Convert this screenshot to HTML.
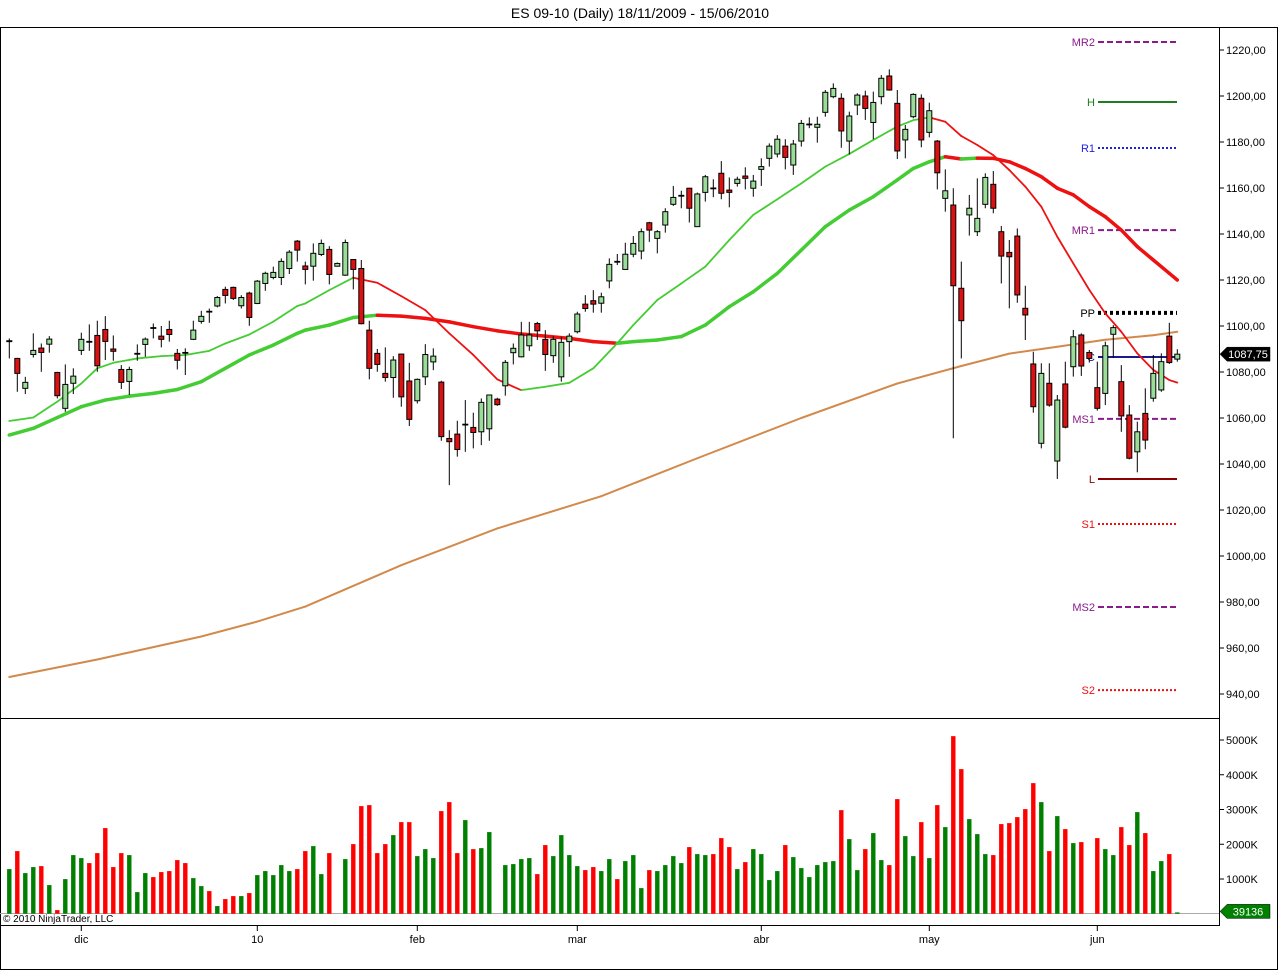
<!DOCTYPE html>
<html><head><meta charset="utf-8"><style>
body{margin:0;background:#fff;font-family:"Liberation Sans",sans-serif}
svg{display:block}
</style></head><body>
<svg id="chart" width="1280" height="971" xmlns="http://www.w3.org/2000/svg" font-family="Liberation Sans, sans-serif">
<rect x="0" y="0" width="1280" height="971" fill="#fff"/>
<text x="640" y="18" text-anchor="middle" font-size="14" fill="#000">ES 09-10 (Daily)  18/11/2009 - 15/06/2010</text>
<rect x="0.5" y="27.5" width="1277" height="942" fill="none" stroke="#000"/>
<line x1="0" y1="718.5" x2="1219" y2="718.5" stroke="#000"/>
<line x1="0" y1="925.5" x2="1219" y2="925.5" stroke="#000"/>
<line x1="1219.5" y1="27" x2="1219.5" y2="926" stroke="#000"/>
<line x1="0" y1="913.5" x2="1219" y2="913.5" stroke="#aaa"/>
<g id="pivots"></g>
<g id="mas"></g>
<g id="candles"></g>
<g id="volume"></g>
<g id="axes"></g>
<text x="3" y="922" font-size="10" fill="#000">© 2010 NinjaTrader, LLC</text>
</svg>
<script>
const opens=[1093.2,1085.9,1072.9,1087.6,1090.4,1092.1,1079.8,1064.2,1075.1,1089.4,1093.2,1095.9,1098.5,1090.0,1081.1,1075.9,1088.0,1092.0,1099.2,1095.6,1098.5,1088.1,1088.4,1094.2,1102.0,1106.3,1108.7,1115.9,1116.8,1108.8,1114.3,1109.8,1118.5,1121.1,1121.1,1125.0,1136.9,1126.1,1126.0,1131.1,1133.3,1126.0,1122.1,1128.9,1125.0,1098.2,1088.1,1079.4,1077.6,1087.8,1076.1,1067.5,1077.9,1084.4,1075.6,1051.1,1053.0,1057.2,1055.9,1054.0,1055.3,1068.2,1074.0,1088.4,1086.6,1091.4,1101.1,1094.2,1087.1,1077.9,1093.2,1097.5,1109.5,1111.0,1109.9,1119.6,1128.0,1124.6,1131.2,1132.6,1144.9,1138.1,1143.9,1152.9,1156.7,1159.9,1143.2,1158.1,1159.9,1166.4,1159.1,1162.0,1165.2,1159.9,1168.1,1172.9,1174.8,1178.2,1170.0,1180.4,1187.7,1186.4,1192.9,1199.7,1199.0,1180.4,1196.1,1200.0,1188.5,1199.7,1208.7,1196.8,1180.9,1191.0,1199.0,1184.2,1180.4,1155.5,1152.6,1116.4,1148.3,1141.0,1152.9,1161.6,1141.0,1132.0,1139.1,1107.7,1083.5,1049.0,1075.1,1041.3,1074.8,1082.3,1096.1,1088.5,1073.2,1070.7,1096.4,1075.8,1061.3,1045.3,1062.0,1068.6,1072.2,1095.6,1085.6];
const highs=[1094.6,1086.2,1077.9,1096.8,1092.4,1095.6,1080.1,1083.3,1081.6,1097.1,1100.7,1102.3,1104.3,1095.9,1083.0,1082.3,1092.0,1095.0,1101.1,1100.0,1102.3,1090.0,1090.3,1102.3,1106.6,1107.6,1113.0,1117.1,1117.1,1113.4,1114.9,1120.0,1123.6,1125.8,1129.4,1133.0,1137.4,1128.0,1135.9,1137.6,1134.7,1127.6,1137.6,1128.9,1128.7,1102.3,1090.0,1090.7,1086.9,1087.8,1084.0,1077.2,1092.1,1090.3,1076.2,1054.7,1058.8,1067.8,1062.3,1068.5,1070.0,1068.8,1085.2,1092.4,1101.8,1101.8,1101.8,1098.2,1095.6,1095.3,1096.8,1106.2,1113.4,1115.6,1114.5,1129.4,1131.3,1136.2,1139.1,1142.4,1145.3,1141.7,1151.2,1160.9,1158.8,1160.1,1158.0,1165.7,1163.8,1171.7,1164.6,1164.9,1169.0,1165.7,1172.9,1179.4,1183.0,1181.2,1180.9,1189.6,1190.7,1191.0,1202.6,1205.5,1201.2,1193.2,1201.2,1202.3,1201.9,1209.1,1211.6,1202.6,1187.4,1201.2,1200.7,1197.1,1180.9,1168.1,1159.9,1128.0,1157.0,1164.2,1166.4,1167.4,1143.5,1137.4,1142.4,1117.5,1088.8,1083.8,1083.8,1070.0,1084.5,1098.3,1096.8,1089.6,1084.5,1093.2,1100.4,1083.0,1065.6,1058.4,1072.9,1087.4,1088.1,1101.4,1089.9];
const lows=[1085.9,1071.4,1070.4,1086.3,1080.1,1088.4,1068.5,1062.7,1070.4,1087.4,1089.2,1080.1,1085.2,1084.9,1072.6,1070.0,1084.9,1086.6,1094.6,1090.7,1093.2,1081.1,1078.7,1093.9,1101.0,1101.4,1108.1,1109.8,1111.3,1107.6,1100.1,1109.5,1115.3,1120.3,1117.8,1122.6,1128.0,1118.1,1119.7,1130.4,1118.1,1125.8,1121.8,1115.9,1100.7,1076.8,1080.1,1075.8,1068.8,1064.9,1056.5,1066.3,1074.3,1080.8,1050.1,1030.8,1043.2,1045.3,1046.8,1048.2,1050.1,1065.3,1069.7,1083.3,1086.3,1089.2,1093.9,1080.5,1084.0,1075.8,1086.6,1096.8,1106.2,1105.8,1105.8,1116.4,1126.5,1124.6,1129.9,1129.0,1136.6,1131.6,1140.6,1152.2,1151.2,1145.0,1143.2,1154.1,1156.0,1155.1,1151.6,1160.6,1159.4,1156.2,1160.9,1169.3,1173.3,1168.1,1165.7,1178.0,1186.0,1179.7,1191.0,1199.0,1177.5,1174.6,1191.7,1189.6,1181.2,1196.4,1202.3,1172.6,1172.9,1190.3,1177.7,1182.0,1159.4,1149.7,1051.2,1085.9,1139.3,1139.1,1151.2,1149.0,1118.5,1107.7,1110.1,1093.9,1062.3,1046.8,1064.9,1033.5,1055.5,1078.0,1078.3,1084.1,1063.2,1065.6,1086.2,1054.0,1042.0,1036.4,1046.4,1067.1,1071.4,1083.5,1084.5];
const closes=[1093.6,1079.4,1075.5,1089.4,1088.5,1094.3,1069.7,1074.6,1078.2,1094.2,1093.3,1082.7,1093.3,1089.0,1075.5,1081.1,1088.1,1094.3,1099.3,1094.2,1096.3,1085.1,1088.5,1098.2,1104.2,1106.4,1112.4,1113.3,1112.0,1112.4,1103.7,1119.5,1122.9,1123.3,1128.1,1132.1,1133.0,1124.6,1131.6,1135.9,1122.4,1127.2,1136.3,1124.6,1101.0,1081.6,1083.3,1077.6,1085.2,1069.2,1059.4,1076.8,1087.6,1086.9,1051.9,1049.7,1046.3,1057.3,1053.7,1066.8,1070.0,1065.8,1084.2,1090.3,1096.1,1096.1,1097.9,1087.6,1094.2,1092.9,1095.6,1105.2,1107.6,1109.5,1112.7,1126.8,1128.1,1131.2,1135.9,1141.0,1141.7,1141.0,1149.7,1155.9,1156.8,1151.2,1157.4,1164.9,1160.0,1157.7,1158.1,1163.8,1164.2,1163.0,1169.3,1178.2,1181.2,1173.3,1179.1,1188.1,1187.8,1187.7,1201.6,1203.3,1184.8,1191.3,1200.4,1194.6,1197.2,1207.7,1202.6,1176.1,1185.5,1200.7,1180.9,1193.6,1166.6,1158.8,1117.5,1102.3,1151.2,1146.8,1164.6,1151.2,1130.4,1130.1,1113.5,1104.8,1064.9,1079.4,1065.6,1067.8,1056.0,1095.3,1082.6,1085.9,1064.2,1091.4,1099.3,1060.9,1042.5,1054.0,1050.4,1079.4,1084.5,1084.1,1087.75];
const volumes=[1285,1803,1170,1343,1371,825,105,997,1688,1602,1458,1745,2465,1343,1745,1688,623,1170,1055,1199,1228,1544,1458,1026,796,652,221,422,508,508,595,1112,1228,1112,1400,1228,1285,1803,1947,1141,1745,0,1573,2004,3098,3126,1745,2004,2263,2637,2637,1659,1860,1602,2954,3213,1745,2695,1860,1889,2350,0,1400,1429,1573,1602,1141,1976,1659,2263,1688,1371,1256,1343,1228,1573,997,1515,1688,738,1256,1228,1400,1659,1458,1918,1717,1688,1717,2177,1918,1285,1486,1860,1717,969,1228,1976,1630,1314,1055,1400,1486,1515,2982,2148,1256,1860,2321,1544,1400,3299,2234,1659,2637,1602,3126,2493,5111,4162,2724,2292,1717,1688,2580,2608,2781,3011,3759,3213,1803,2810,2436,2033,2062,0,2177,1860,1688,2493,1976,2925,2321,1228,1515,1717,39.136];
const volUp=[1,0,1,1,0,1,0,1,1,1,0,0,0,0,0,1,1,1,0,0,0,0,0,1,1,0,1,0,0,1,0,1,1,1,1,1,0,0,1,1,0,1,1,0,0,0,0,0,1,0,0,1,1,1,0,0,0,1,0,1,1,0,1,1,1,1,0,0,1,1,1,1,0,0,1,1,0,1,1,1,0,1,1,1,1,0,1,1,0,0,0,1,0,1,1,1,1,0,1,1,1,1,1,1,0,1,1,0,1,1,0,0,1,1,0,1,0,1,0,0,1,1,1,0,0,0,0,0,0,1,0,1,0,1,0,0,0,1,1,0,0,1,0,1,1,0,1];
const thinIdx=[0,3,6,9,11,13,16,19,22,25,27,30,33,36,37,40,43,46,49,52,55,58,61,63,64,67,70,73,76,78,81,84,87,90,93,96,99,102,105,108,111,113,115,117,119,121,123,125,127,129,131,133,135,137,139,141,143,145,146];
const thinVal=[1058.7,1060.2,1067.1,1075.0,1081.6,1084.0,1085.9,1086.9,1087.4,1089.2,1092.4,1096.3,1101.9,1108.7,1109.8,1115.6,1121.0,1118.8,1113.0,1106.9,1096.8,1087.4,1076.8,1073.6,1072.1,1073.6,1075.3,1081.6,1092.5,1100.4,1111.3,1118.5,1125.8,1137.4,1148.3,1155.1,1162.0,1169.3,1174.8,1180.9,1186.7,1189.5,1190.7,1188.8,1182.6,1178.7,1174.3,1167.8,1160.6,1151.9,1138.8,1127.2,1115.7,1105.5,1097.5,1088.1,1080.9,1076.5,1075.4];
const thickIdx=[0,3,6,9,12,15,18,21,24,27,30,33,36,37,40,43,46,49,52,55,58,61,64,67,70,73,76,78,81,84,87,90,93,96,99,102,105,108,111,113,115,117,119,121,123,125,127,129,131,133,135,137,139,141,143,145,146];
const thickVal=[1052.6,1055.5,1060.2,1064.9,1067.8,1069.5,1070.7,1072.4,1075.8,1081.6,1087.4,1091.7,1096.8,1098.2,1100.4,1103.7,1104.7,1104.3,1103.3,1101.8,1099.7,1097.9,1096.5,1095.6,1094.6,1093.2,1092.5,1093.2,1093.9,1095.4,1100.4,1108.4,1114.9,1122.9,1133.0,1143.2,1150.4,1156.2,1163.5,1168.5,1171.4,1173.6,1172.6,1173.0,1172.9,1171.4,1168.5,1164.9,1159.9,1157.0,1151.9,1147.5,1141.7,1134.5,1128.7,1122.9,1120.0];
const smaIdx=[0,11,24,31,37,49,61,74,86,99,111,119,125,131,137,143,146];
const smaVal=[947.4,955.0,965.0,971.5,978.0,996.0,1012.0,1026.0,1042.5,1060.0,1075.0,1082.6,1088.0,1091.0,1094.0,1096.0,1097.5];
const pivotNames=["MR2","H","R1","MR1","PP","C","MS1","L","S1","MS2","S2"];
const pivotVals=[1223.5,1197.4,1177.4,1141.7,1105.7,1086.5,1059.6,1033.5,1013.9,977.8,941.7];
const pivotColors=["#8b1a8b","#1e7d1e","#2020e0","#8b1a8b","#000","#1a1a8c","#8b1a8b","#8b0000","#ee1111","#8b1a8b","#ee1111"];
const pivotDash=["6,3","","2,2","6,3","3,3","","6,3","","2,2","6,3","2,2"];
const pivotWidth=[2,2,2,2,4,2,2,2,2,2,2];
const priceTicks=[940,960,980,1000,1020,1040,1060,1080,1100,1120,1140,1160,1180,1200,1220];
const volTicks=[1000,2000,3000,4000,5000];
const monthLabels=["dic","10","feb","mar","abr","may","jun"];
const monthIdx=[9,31,51,71,94,115,136];
const lastPrice=1087.75, lastVol=39136;

const NS="http://www.w3.org/2000/svg";
const xB=i=>9.3+8*i;
const yP=p=>50+(1220-p)*2.3;
const yV=v=>913.75-v*0.03475;
function mk(tag,attrs,parent){const e=document.createElementNS(NS,tag);for(const k in attrs)e.setAttribute(k,attrs[k]);parent.appendChild(e);return e;}
const gP=document.getElementById('pivots'),gM=document.getElementById('mas'),gC=document.getElementById('candles'),gV=document.getElementById('volume'),gA=document.getElementById('axes');

pivotNames.forEach((n,k)=>{
  const y=yP(pivotVals[k]);
  const ln=mk('line',{x1:1098,x2:1177,y1:y,y2:y,stroke:pivotColors[k],'stroke-width':pivotWidth[k]},gP);
  if(pivotDash[k])ln.setAttribute('stroke-dasharray',pivotDash[k]);
  
  
  const t=mk('text',{x:1095,y:y+4,'text-anchor':'end','font-size':11,fill:pivotColors[k]},gP);
  t.textContent=n;
  
  
});

function drawMA(idx,val,w,name,colorFn){
  for(let k=0;k<idx.length-1;k++){
    const seg=mk('line',{x1:xB(idx[k]),y1:yP(val[k]),x2:xB(idx[k+1]),y2:yP(val[k+1]),stroke:colorFn(val[k+1]-val[k]),'stroke-width':w,'stroke-linecap':'round'},gM);
    
    
  }
}
drawMA(smaIdx,smaVal,2,'sma-200',()=>'#d28a4c');
drawMA(thickIdx,thickVal,3.5,'slow-ma',d=>d>=0?'#44cc33':'#ee1111');
drawMA(thinIdx,thinVal,1.8,'fast-ma',d=>d>=0?'#44cc33':'#ee1111');

opens.forEach((o,i)=>{
  const c=closes[i],x=xB(i);
  const w=mk('line',{x1:x,x2:x,y1:yP(highs[i]),y2:yP(lows[i]),stroke:'#000','stroke-width':1},gC);
  
  
  const top=yP(Math.max(o,c)),bot=yP(Math.min(o,c));
  const b=mk('rect',{x:x-2.5,y:top,width:5,height:Math.max(bot-top,0.8),fill:c>=o?'#99dd99':'#dd1111',stroke:'#000','stroke-width':1},gC);
  
  
});

volumes.forEach((v,i)=>{
  if(v<=0)return;
  const y=yV(v);
  const r=mk('rect',{x:xB(i)-2.2,y:y,width:4.4,height:913.75-y,fill:volUp[i]?'#008000':'#ff0000'},gV);
  
  
});

priceTicks.forEach(p=>{
  const y=yP(p);
  const l=mk('line',{x1:1219,x2:1224,y1:y,y2:y,stroke:'#000'},gA);
  
  
  const t=mk('text',{x:1226,y:y+4,'font-size':11,fill:'#000'},gA);
  t.textContent=p.toFixed(2).replace('.',',');
  
  
});
volTicks.forEach(v=>{
  const y=yV(v);
  const l=mk('line',{x1:1219,x2:1224,y1:y,y2:y,stroke:'#000'},gA);
  
  
  const t=mk('text',{x:1226,y:y+4,'font-size':11,fill:'#000'},gA);
  t.textContent=v+'K';
  
  
});
monthLabels.forEach((m,k)=>{
  const x=xB(monthIdx[k]);
  const l=mk('line',{x1:x,x2:x,y1:925,y2:931,stroke:'#000'},gA);
  
  
  const t=mk('text',{x:x,y:943,'text-anchor':'middle','font-size':11,fill:'#000'},gA);
  t.textContent=m;
  
  
});
function tag(y,txt,fill,name){
  const p=mk('path',{d:`M1220 ${y} L1227 ${y-7} L1270 ${y-7} L1270 ${y+7} L1227 ${y+7} Z`,fill:fill,stroke:'#000','stroke-width':0.5},gA);
  
  
  const t=mk('text',{x:1248,y:y+4,'text-anchor':'middle','font-size':11,fill:'#fff'},gA);
  t.textContent=txt;
  
  
}
tag(yP(lastPrice),lastPrice.toFixed(2).replace('.',','),'#000','last-price-label');
tag(yV(lastVol/1000)-1,String(lastVol),'#008000','last-volume-label');
</script>
</body></html>
